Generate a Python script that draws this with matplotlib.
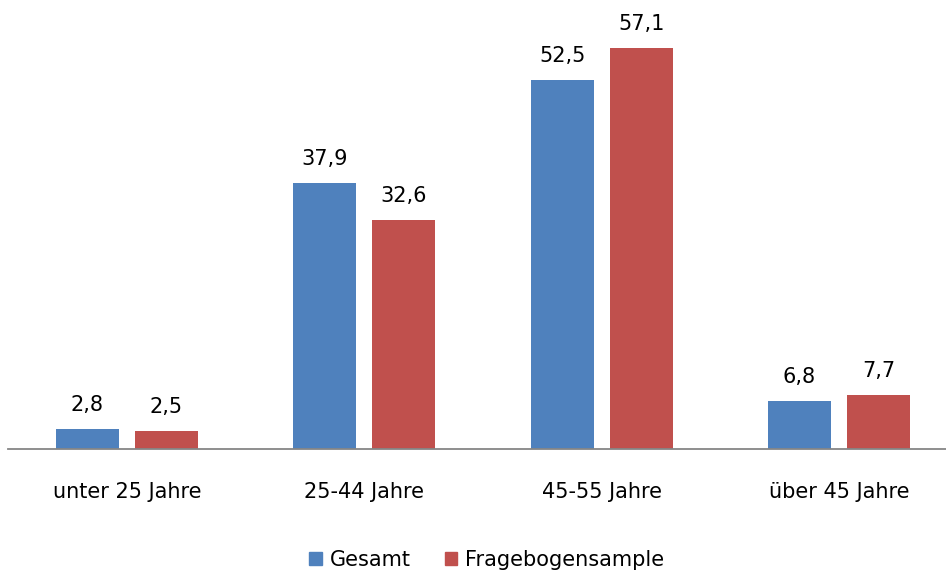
import matplotlib
matplotlib.use("Agg")
import matplotlib.pyplot as plt
from matplotlib.patches import Patch
import numpy as np

categories = ["unter 25 Jahre", "25-44 Jahre", "45-55 Jahre", "über 45 Jahre"]
gesamt = [2.8, 37.9, 52.5, 6.8]
frage = [2.5, 32.6, 57.1, 7.7]
series_names = ["Gesamt", "Fragebogensample"]
colors = ["#4F81BD", "#C0504D"]

plt.rcParams['font.family'] = ['DejaVu Sans']
FS = 15

fig = plt.figure(figsize=(9.46, 5.75), dpi=100)
step = 237.3
ax = fig.add_axes([(127 - step/2)/946, 1 - 449/575, 4*step/946, 449/575])

x = np.arange(len(categories))
w = 63/step
off = 39.5/step
b1 = ax.bar(x - off, gesamt, w, color=colors[0])
b2 = ax.bar(x + off, frage, w, color=colors[1])

for bars, vals in ((b1, gesamt), (b2, frage)):
    for r, v in zip(bars, vals):
        ax.annotate(f"{v:.1f}".replace(".", ","),
                    xy=(r.get_x() + r.get_width()/2, r.get_height()),
                    xytext=(0, 13), textcoords="offset points",
                    ha="center", va="baseline", fontsize=FS, color="black")

ax.set_xlim(-0.5, len(categories) - 0.5)
ax.set_ylim(0, 449/7.02)
ax.set_xticks(x)
ax.set_xticklabels(categories, fontsize=FS)
ax.tick_params(axis="x", length=0, pad=23.5)
ax.set_yticks([])
for s in ["top", "right", "left"]:
    ax.spines[s].set_visible(False)
ax.spines["bottom"].set_color("#868686")
ax.spines["bottom"].set_linewidth(1.3)

handles = [Patch(color=c, label=n) for c, n in zip(colors, series_names)]
fig.legend(handles=handles, loc="center", bbox_to_anchor=(487/946, 1 - 560/575),
           ncol=2, frameon=False, fontsize=FS, handlelength=0.6, handleheight=0.6,
           handletextpad=0.4, columnspacing=1.6)

fig.savefig("out.png", dpi=100)
